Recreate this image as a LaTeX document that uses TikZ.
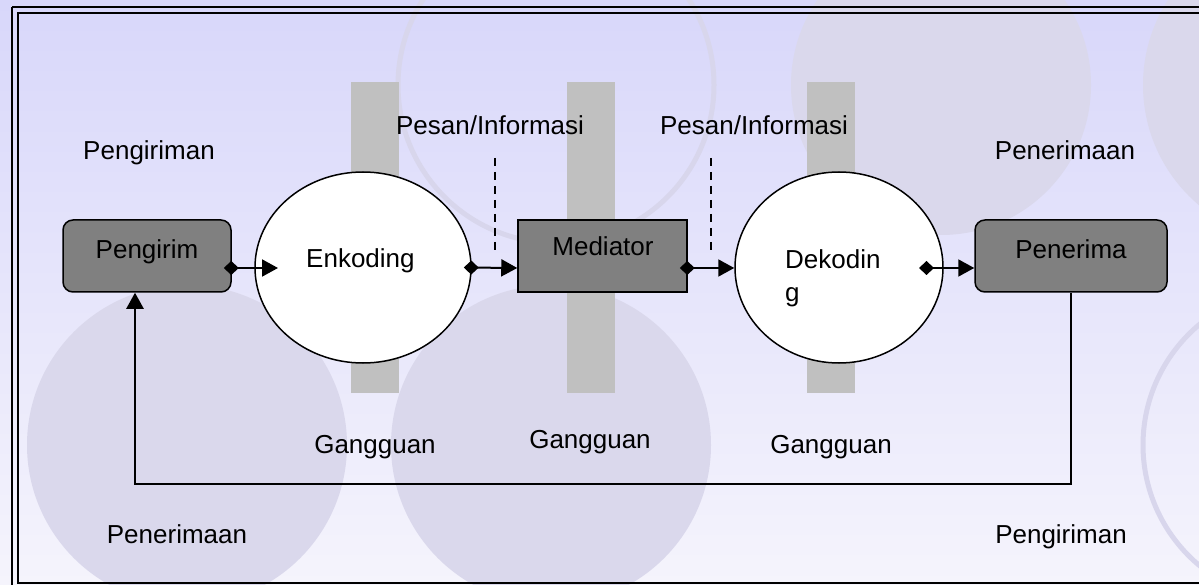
\documentclass[tikz,border=0pt]{standalone}
\usepackage{fontspec}
\setmainfont{Liberation Sans}
\usetikzlibrary{shapes.geometric,arrows.meta}
\definecolor{bgtop}{RGB}{216,215,250}
\definecolor{bgbot}{RGB}{245,244,252}
\definecolor{blob}{RGB}{218,216,236}
\definecolor{ring}{RGB}{216,214,236}
\definecolor{bar}{RGB}{192,192,192}
\definecolor{boxgray}{RGB}{128,128,128}
\tikzset{
  lbl/.style={inner sep=0pt, font=\fontsize{26pt}{33pt}\selectfont},
  rbox/.style={draw=black, line width=1.5pt, fill=boxgray, rounded corners=10pt, minimum width=168pt, minimum height=72pt, inner sep=0pt},
  sbox/.style={draw=black, line width=1.5pt, fill=boxgray, minimum width=169pt, minimum height=72pt, inner sep=0pt},
  oval/.style={ellipse, draw=black, line width=1.5pt, fill=white, inner sep=0pt},
  flow/.style={line width=2pt, {Diamond[length=15pt,width=14pt]}-{Triangle[length=16pt,width=17pt]}},
  back/.style={line width=2.4pt, -{Triangle[length=16pt,width=17pt]}},
  dashline/.style={line width=2pt, dash pattern=on 8pt off 6pt},
  noisebar/.style={fill=bar, draw=none}
}
\begin{document}
\begin{tikzpicture}[x=1pt,y=-1pt]
\useasboundingbox (0,0) rectangle (1199,585);
\clip (0,0) rectangle (1199,585);
% background
\shade[top color=bgtop, bottom color=bgbot] (0,0) rectangle (1199,585);
% decorative circles
\fill[blob] (941,85) circle [radius=150pt];
\fill[blob] (1300,85) circle [radius=157pt];
\fill[blob] (187,445) circle [radius=160pt];
\fill[blob] (551,445) circle [radius=160pt];
\draw[ring, line width=5pt] (556,85) circle [radius=158pt];
\draw[ring, line width=5pt] (1300,445) circle [radius=157pt];
% frame
\draw[line width=2.6pt] (12,7) -- (1210,7);
\draw[line width=2.6pt] (12,7) -- (12,600);
\draw[line width=2pt] (1210,13) -- (18,13) -- (18,583) -- (1210,583);
% noise bars
\fill[noisebar] (351,82) rectangle (399,393);
\fill[noisebar] (567,82) rectangle (615,393);
\fill[noisebar] (807,82) rectangle (855,393);
% main nodes
\node[rbox] (pengirim) at (147,256) {};
\node[oval, minimum width=216pt, minimum height=191pt] (enk) at (363,267.5) {};
\node[sbox] (mediator) at (602.5,256) {};
\node[oval, minimum width=208pt, minimum height=191pt] (dek) at (839,267.5) {};
\node[rbox, minimum width=192pt] (penerima) at (1071,256) {};
% texts inside
\node[lbl, anchor=base] (tpengirim) at (147,259) {Pengirim};
\node[lbl, anchor=base west] (tenk) at (306,268) {Enkoding};
\node[lbl, anchor=base] (tmed) at (603,256) {Mediator};
\node[lbl, anchor=north west, align=left] (tdek) at (785,249.5) {Dekodin\\g};
\node[lbl, anchor=base] (tpen) at (1071,259) {Penerima};
% labels
\node[lbl, anchor=base] (l1) at (149,160) {Pengiriman};
\node[lbl, anchor=base] (l2) at (490,135) {Pesan/Informasi};
\node[lbl, anchor=base] (l3) at (754,135) {Pesan/Informasi};
\node[lbl, anchor=base] (l4) at (1065,160) {Penerimaan};
\node[lbl, anchor=base] (g1) at (375,453) {Gangguan};
\node[lbl, anchor=base] (g2) at (590,448) {Gangguan};
\node[lbl, anchor=base] (g3) at (831,453) {Gangguan};
\node[lbl, anchor=base] (l5) at (177,543) {Penerimaan};
\node[lbl, anchor=base] (l6) at (1061,543) {Pengiriman};
% dashed markers
\coordinate (d1a) at (495,158); \coordinate (d1b) at (495,250);
\coordinate (d2a) at (711,158); \coordinate (d2b) at (711,250);
\draw[dashline] (d1a) -- (d1b);
\draw[dashline] (d2a) -- (d2b);
% flow arrows
\coordinate (enkin) at (278,268);
\draw[flow] ([xshift=-8pt,yshift=-12pt]pengirim.east) -- (enkin);
\draw[flow] ([xshift=-8pt]enk.east) -- (mediator.west |- 0,268);
\draw[flow] ([xshift=-8pt,yshift=-12pt]mediator.east) -- (dek.west |- 0,268);
\draw[flow] (919,268) -- (penerima.west |- 0,268);
% feedback
\draw[back] (penerima.south) -- ++(0,191) -| ([xshift=-12pt]pengirim.south);
\end{tikzpicture}
\end{document}
